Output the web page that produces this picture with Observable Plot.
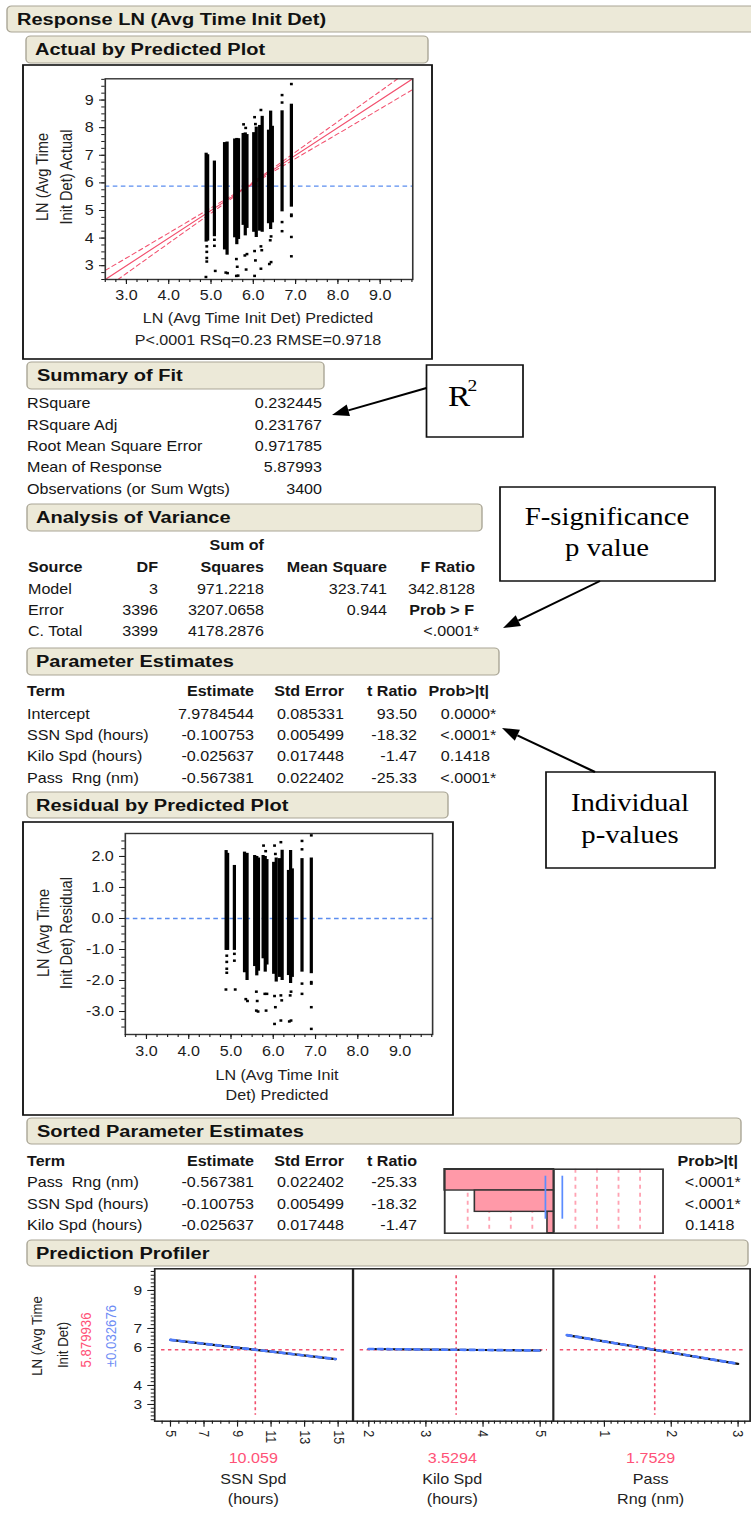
<!DOCTYPE html>
<html><head><meta charset="utf-8">
<script src="https://cdn.jsdelivr.net/npm/d3@7"></script>
<script src="https://cdn.jsdelivr.net/npm/@observablehq/plot@0.6"></script>
<style>
html,body{margin:0;padding:0;background:#fff;width:751px;height:1513px;overflow:hidden}
#page{position:absolute;left:0;top:0;width:654px;height:1513px;transform:scaleX(1.15);transform-origin:0 0}
</style></head>
<body><div id="page"></div>
<script>
// ================= DATA =================
const summaryLabels = ["RSquare","RSquare Adj","Root Mean Square Error","Mean of Response","Observations (or Sum Wgts)"];
const summaryValues = ["0.232445","0.231767","0.971785","5.87993","3400"];

const anovaSources = ["Model","Error","C. Total"];
const anovaDF = ["3","3396","3399"];
const anovaSS = ["971.2218","3207.0658","4178.2876"];
const anovaMS = ["323.741","0.944",""];
const anovaF = ["342.8128","Prob > F","<.0001*"];

const paramTerms = ["Intercept","SSN Spd (hours)","Kilo Spd (hours)","Pass  Rng (nm)"];
const paramEstimates = ["7.9784544","-0.100753","-0.025637","-0.567381"];
const paramStdErr = ["0.085331","0.005499","0.017448","0.022402"];
const paramTRatio = ["93.50","-18.32","-1.47","-25.33"];
const paramProb = ["0.0000*","<.0001*","0.1418","<.0001*"];

const sortedTerms = ["Pass  Rng (nm)","SSN Spd (hours)","Kilo Spd (hours)"];
const sortedEstimates = ["-0.567381","-0.100753","-0.025637"];
const sortedStdErr = ["0.022402","0.005499","0.017448"];
const sortedTRatio = [-25.33, -18.32, -1.47];
const sortedProb = ["<.0001*","<.0001*","0.1418"];
const tCritical = [-1.96, 1.96];
const tGrid = [-20, -15, -10, -5, 5, 10, 15, 20];

const meanResponse = 5.879936;
// predicted-value columns of observations (residual ranges)
const colPred    = [4.885, 4.92, 5.08, 5.32, 5.38, 5.56, 5.61, 5.65, 5.76, 5.81, 5.85, 6.01, 6.07, 6.15, 6.21, 6.36, 6.41, 6.45, 6.68, 6.90];
const colResidLo = [-1.03, -1.03, -1.03, -1.75, -2.00, -1.55, -1.85, -1.70, -1.30, -1.73, -1.50, -1.80, -2.05, -1.90, -2.00, -1.84, -2.10, -1.90, -1.73, -1.78];
const colResidHi = [2.19, 2.10, 1.71, 2.14, 2.10, 2.03, 2.00, 1.95, 2.03, 2.00, 1.90, 1.81, 1.95, 1.93, 2.20, 1.55, 2.19, 1.60, 1.93, 1.95];
// isolated observations
const outPred  = [4.90,4.90,4.90,4.90,4.88, 5.08,5.08,5.10, 5.35,5.39, 5.60,5.62,5.60,5.64, 5.77,5.82,5.80,5.85,5.83, 6.03,6.05,6.03,6.05,6.03, 6.18,6.18,6.20,6.18, 6.42,6.40,6.42,6.38, 6.68,6.68,6.68,6.68, 6.90,6.90,6.90,6.90,6.90];
const outResid = [-1.20,-1.40,-1.62,-1.75,-2.29, -1.14,-1.36,-2.29, -2.60,-2.66, -2.36,-2.66,-2.97,-3.00, 2.35,2.17,-2.43,-2.43,-2.97, 2.35,2.08,-2.50,-2.86,-3.40, 2.46,-2.48,-2.64,-3.29, -2.36,-2.48,-3.29,-3.32, 2.50,2.23,-2.10,-2.43, 2.68,-2.05,-2.10,-2.86,-3.56];
// fit line and confidence curves (actual by predicted)
const fitPred = [2.5, 9.77];
const ciPred  = [2.5, 3.5, 4.5, 5.5, 5.88, 6.5, 7.5, 8.5, 9.77];
const ciUpper = [2.83, 3.73, 4.64, 5.55, 5.91, 6.57, 7.67, 8.77, 10.16];
const ciLower = [2.17, 3.27, 4.36, 5.45, 5.85, 6.43, 7.33, 8.23, 9.38];

const actualTicksX = [3, 4, 5, 6, 7, 8, 9];
const actualTicksY = [3, 4, 5, 6, 7, 8, 9];
const residTicksY = [-3, -2, -1, 0, 1, 2];

// prediction profiler
const profYTicks = [3, 4, 6, 7, 9];
const ssnX = [5, 14.85],  ssnY = [6.40, 5.39];
const kiloX = [2, 5],     kiloY = [5.92, 5.84];
const passX = [0.44, 3.0], passY = [6.65, 5.14];
const ssnTicks = [5, 7, 9, 11, 13, 15];
const kiloTicks = [2, 3, 4, 5];
const passTicks = [1, 2, 3];
const currentValues = [10.059, 3.5294, 1.7529];
const currentLabels = ["10.059", "3.5294", "1.7529"];
const factorNames = [["SSN Spd", "(hours)"], ["Kilo Spd", "(hours)"], ["Pass", "Rng (nm)"]];
const profMean = "5.879936", profCI = "\u00b10.032676";

// ================= LAYOUT =================
const S = 1.15;
const FONT = '"Liberation Sans", Arial, sans-serif';
const SERIF = '"Liberation Serif", "Times New Roman", serif';
const RED = "#F2506E", BLUE = "#5B8DEF", INK = "#151515";
const NS = "http://www.w3.org/2000/svg";
const page = document.getElementById("page");
const lay = document.createElementNS(NS, "svg");
lay.setAttribute("width", 751 / S); lay.setAttribute("height", 1513);
lay.style.position = "absolute"; lay.style.left = "0"; lay.style.top = "0";
page.appendChild(lay);

function E(tag, attrs) {
  const e = document.createElementNS(NS, tag);
  for (const k in attrs) e.setAttribute(k, attrs[k]);
  lay.appendChild(e); return e;
}
function T(x, y, s, o = {}) {
  const lx = x / S;
  const t = E("text", {x: lx, y, "font-family": o.family || FONT, "font-size": o.size || 14,
    fill: o.color || INK, "text-anchor": o.anchor || "start"});
  if (o.weight) t.setAttribute("font-weight", o.weight);
  if (o.rotate) t.setAttribute("transform", `rotate(${o.rotate},${lx},${y})`);
  t.style.whiteSpace = "pre";
  t.textContent = s; return t;
}
function box(x1, y1, x2, y2, o = {}) {
  return E("rect", {x: x1 / S, y: y1, width: (x2 - x1) / S, height: y2 - y1,
    fill: o.fill || "none", stroke: o.stroke || "#111", "stroke-width": o.sw || 1.5, rx: o.rx || 0});
}
function hdr(x1, y1, x2, y2, label, tx) {
  box(x1, y1, x2, y2, {fill: "#ECE9D8", stroke: "#A9A595", sw: 1.2, rx: 4});
  T(tx, y1 + 19.5, label, {size: 17.4, weight: "bold", color: "#111"});
}
function prob(xr, y, s, o = {}) {
  if (s.endsWith("*")) { T(xr, y, s.slice(0, -1), {anchor: "end", ...o}); T(xr, y, "*", o); }
  else T(xr, y, s, {anchor: "end", ...o});
}
function arrow(ax, ay, tx, ty) {
  const dx = tx - ax, dy = ty - ay, len = Math.hypot(dx, dy), ux = dx / len, uy = dy / len;
  const L = 17, W = 6, bx = tx - ux * L, by = ty - uy * L;
  E("line", {x1: ax / S, y1: ay, x2: bx / S, y2: by, stroke: "#000", "stroke-width": 2});
  E("polygon", {points: [[tx, ty], [bx - uy * W, by + ux * W], [bx + uy * W, by - ux * W]].map(p => `${p[0] / S},${p[1]}`).join(" "), fill: "#000"});
}
function mkPlot(b, a, opts) {
  const p = Plot.plot(Object.assign({
    width: (b[2] - b[0]) / S, height: b[3] - b[1],
    marginLeft: (a[0] - b[0]) / S, marginRight: (b[2] - a[2]) / S,
    marginTop: a[1] - b[1], marginBottom: b[3] - a[3],
    style: {background: "transparent", overflow: "visible", maxWidth: "none", fontFamily: FONT, fontSize: "14px", color: "#1c1c1c"}
  }, opts));
  p.style.position = "absolute"; p.style.left = (b[0] / S) + "px"; p.style.top = b[1] + "px";
  page.appendChild(p); return p;
}
const rng = (a, b, s) => d3.range(Math.round(a / s), Math.round(b / s) + 1).map(i => +(i * s).toFixed(4));

const cols = colPred.map((p, i) => ({pred: p, lo: colResidLo[i], hi: colResidHi[i]}));
const outs = outPred.map((p, i) => ({pred: p, r: outResid[i]}));
const fit = fitPred.map(p => ({pred: p, act: p}));
const ciU = ciPred.map((p, i) => ({pred: p, v: ciUpper[i]}));
const ciL = ciPred.map((p, i) => ({pred: p, v: ciLower[i]}));

// ---------- Response header ----------
hdr(7, 6, 770, 32, "Response LN (Avg Time Init Det)", 17);

// ---------- Actual by Predicted ----------
hdr(26, 36, 428, 63, "Actual by Predicted Plot", 35);
box(23, 65, 432, 359, {sw: 1.6});
mkPlot([58, 70, 424, 305], [105.2, 78.3, 412.7, 279], {
  x: {domain: [2.5, 9.77], label: null}, y: {domain: [2.5, 9.77], label: null},
  marks: [
    Plot.ruleY([meanResponse], {stroke: BLUE, strokeWidth: 1.3, strokeDasharray: "4,3"}),
    Plot.line(ciU, {x: "pred", y: "v", stroke: RED, strokeWidth: 1, strokeDasharray: "4,3", curve: "natural", clip: true}),
    Plot.line(ciL, {x: "pred", y: "v", stroke: RED, strokeWidth: 1, strokeDasharray: "4,3", curve: "natural", clip: true}),
    Plot.line(fit, {x: "pred", y: "act", stroke: RED, strokeWidth: 1.1}),
    Plot.ruleX(cols, {x: "pred", y1: d => d.pred + d.lo, y2: d => d.pred + d.hi, stroke: "#000", strokeWidth: 2.8}),
    Plot.dot(outs, {x: "pred", y: d => d.pred + d.r, symbol: "square", r: 1.4, fill: "#000"}),
    Plot.frame({stroke: "#333", strokeWidth: 1.4}),
    Plot.axisX(actualTicksX, {tickSize: 5, tickPadding: 6, tickFormat: d => d.toFixed(1), label: null}),
    Plot.axisX(rng(2.5, 9.75, 0.25), {tickSize: 3, tickFormat: () => "", label: null}),
    Plot.axisY(actualTicksY, {tickSize: 5, tickPadding: 5, tickFormat: d => String(d), label: null}),
    Plot.axisY(rng(2.5, 9.75, 0.25), {tickSize: 3, tickFormat: () => "", label: null})
  ]
});
T(48, 177, "LN (Avg Time", {size: 14.6, rotate: -90, anchor: "middle", color: "#222"});
T(72, 177, "Init Det) Actual", {size: 14.6, rotate: -90, anchor: "middle", color: "#222"});
T(258, 323, "LN (Avg Time Init Det) Predicted", {anchor: "middle", color: "#222"});
T(258, 345.5, "P<.0001 RSq=0.23 RMSE=0.9718", {anchor: "middle", color: "#222"});

// ---------- Summary of Fit ----------
hdr(27, 362, 324, 389, "Summary of Fit", 37);
summaryLabels.forEach((l, i) => {
  const y = 408.5 + i * 21.3;
  T(27, y, l); T(322, y, summaryValues[i], {anchor: "end"});
});
box(426.5, 365, 523, 437, {fill: "#fff", sw: 1.5});
T(448, 406, "R", {family: SERIF, size: 29, color: "#000"});
T(467.5, 391, "2", {family: SERIF, size: 17, color: "#000"});
arrow(426.5, 388, 332, 415);

// ---------- Analysis of Variance ----------
hdr(27, 504, 482, 531, "Analysis of Variance", 36);
const aCols = [158, 264, 387, 475];
T(264, 550, "Sum of", {anchor: "end", weight: "bold"});
T(28, 572.5, "Source", {weight: "bold"});
["DF", "Squares", "Mean Square", "F Ratio"].forEach((h, j) => T(aCols[j], 572.5, h, {anchor: "end", weight: "bold"}));
anovaSources.forEach((s, i) => {
  const y = 594 + i * 21.2;
  T(28, y, s);
  T(aCols[0], y, anovaDF[i], {anchor: "end"});
  T(aCols[1], y, anovaSS[i], {anchor: "end"});
  T(aCols[2], y, anovaMS[i], {anchor: "end"});
  if (anovaF[i] === "Prob > F") T(474, y, anovaF[i], {anchor: "end", weight: "bold"});
  else prob(anovaF[i].endsWith("*") ? 473 : aCols[3], y, anovaF[i]);
});
box(500, 487, 715, 581, {fill: "#fff", sw: 1.5});
T(607, 525, "F-significance", {family: SERIF, size: 25, anchor: "middle", color: "#000"});
T(607, 556, "p value", {family: SERIF, size: 25, anchor: "middle", color: "#000"});
arrow(600, 581, 503, 628);

// ---------- Parameter Estimates ----------
hdr(27, 648, 499, 675, "Parameter Estimates", 36);
const pCols = [254, 344, 417];
T(27, 696.5, "Term", {weight: "bold"});
["Estimate", "Std Error", "t Ratio"].forEach((h, j) => T(pCols[j], 696.5, h, {anchor: "end", weight: "bold"}));
T(489, 696.5, "Prob>|t|", {anchor: "end", weight: "bold"});
paramTerms.forEach((t, i) => {
  const y = 719 + i * 21.2;
  T(27, y, t);
  T(pCols[0], y, paramEstimates[i], {anchor: "end"});
  T(pCols[1], y, paramStdErr[i], {anchor: "end"});
  T(pCols[2], y, paramTRatio[i], {anchor: "end"});
  prob(490, y, paramProb[i]);
});
box(546, 772, 715, 868, {fill: "#fff", sw: 1.5});
T(630, 811, "Individual", {family: SERIF, size: 25, anchor: "middle", color: "#000"});
T(630, 843, "p-values", {family: SERIF, size: 25, anchor: "middle", color: "#000"});
arrow(595, 772, 502, 728);

// ---------- Residual by Predicted ----------
hdr(27, 792, 448, 818, "Residual by Predicted Plot", 36);
box(23, 822, 453, 1115, {sw: 1.6});
mkPlot([75, 826, 445, 1064], [125, 833, 432.3, 1034], {
  x: {domain: [2.5, 9.77], label: null}, y: {domain: [-3.74, 2.74], label: null},
  marks: [
    Plot.ruleY([0], {stroke: BLUE, strokeWidth: 1.3, strokeDasharray: "4,3"}),
    Plot.ruleX(cols, {x: "pred", y1: "lo", y2: "hi", stroke: "#000", strokeWidth: 2.8}),
    Plot.dot(outs, {x: "pred", y: "r", symbol: "square", r: 1.4, fill: "#000"}),
    Plot.frame({stroke: "#333", strokeWidth: 1.4}),
    Plot.axisX(actualTicksX, {tickSize: 5, tickPadding: 7, tickFormat: d => d.toFixed(1), label: null}),
    Plot.axisX(rng(2.5, 9.75, 0.25), {tickSize: 3, tickFormat: () => "", label: null}),
    Plot.axisY(residTicksY, {tickSize: 5, tickPadding: 5, tickFormat: d => d.toFixed(1), label: null}),
    Plot.axisY(rng(-3.5, 2.5, 0.25), {tickSize: 3, tickFormat: () => "", label: null})
  ]
});
T(49, 933, "LN (Avg Time", {size: 14.6, rotate: -90, anchor: "middle", color: "#222"});
T(72.5, 933, "Init Det) Residual", {size: 14.6, rotate: -90, anchor: "middle", color: "#222"});
T(277, 1080, "LN (Avg Time Init", {anchor: "middle", color: "#222"});
T(277, 1100.5, "Det) Predicted", {anchor: "middle", color: "#222"});

// ---------- Sorted Parameter Estimates ----------
hdr(27, 1118, 741, 1144, "Sorted Parameter Estimates", 37);
T(27, 1166.5, "Term", {weight: "bold"});
["Estimate", "Std Error", "t Ratio"].forEach((h, j) => T(pCols[j], 1166.5, h, {anchor: "end", weight: "bold"}));
T(738, 1166.5, "Prob>|t|", {anchor: "end", weight: "bold"});
sortedTerms.forEach((t, i) => {
  const y = 1187.5 + i * 21.2;
  T(27, y, t);
  T(pCols[0], y, sortedEstimates[i], {anchor: "end"});
  T(pCols[1], y, sortedStdErr[i], {anchor: "end"});
  T(pCols[2], y, sortedTRatio[i].toFixed(2), {anchor: "end"});
  prob(734.5, y, sortedProb[i]);
});
const bars = sortedTRatio.map((t, i) => ({t, i}));
mkPlot([438, 1164, 668, 1237], [444, 1168.7, 662.3, 1232.7], {
  x: {domain: [-25.33, 25.33], label: null, axis: null}, y: {domain: [3, 0], label: null, axis: null},
  marks: [
    Plot.ruleX(tGrid, {stroke: "#FFA3B3", strokeWidth: 1.6, strokeDasharray: "4,4"}),
    Plot.rect(bars, {x1: 0, x2: "t", y1: "i", y2: d => d.i + 1, fill: "#FF99A8", stroke: "#333", strokeWidth: 1.4}),
    Plot.ruleX([0], {stroke: "#333", strokeWidth: 1.6}),
    Plot.ruleX(tCritical, {stroke: "#5B8CFF", strokeWidth: 1.5, insetTop: 7, insetBottom: 14}),
    Plot.frame({stroke: "#333", strokeWidth: 1.6})
  ]
});

// ---------- Prediction Profiler ----------
hdr(27, 1240, 748, 1266, "Prediction Profiler", 36);
const panels = [
  {b: [114, 1262, 357, 1456], a: [154.3, 1268.3, 352.3, 1420.7], dom: [4.06, 15.87], ticks: ssnTicks, minor: rng(4.5, 15.5, 0.5), xs: ssnX, ys: ssnY, yAxis: true},
  {b: [348, 1262, 557, 1456], a: [352.3, 1268.3, 552.3, 1420.7], dom: [1.73, 5.23], ticks: kiloTicks, minor: rng(1.8, 5.2, 0.1), xs: kiloX, ys: kiloY},
  {b: [548, 1262, 753, 1456], a: [552.3, 1268.3, 749, 1420.7], dom: [0.237, 3.18], ticks: passTicks, minor: rng(0.3, 3.1, 0.1), xs: passX, ys: passY}
];
panels.forEach((pn, k) => {
  const prof = pn.xs.map((x, i) => ({x, y: pn.ys[i]}));
  const marks = [
    Plot.ruleY([meanResponse], {stroke: RED, strokeWidth: 1.4, strokeDasharray: "3,3", insetLeft: 6, insetRight: 5}),
    Plot.ruleX([currentValues[k]], {stroke: RED, strokeWidth: 1.4, strokeDasharray: "3,3", insetTop: 7, insetBottom: 6}),
    Plot.line(prof, {x: "x", y: "y", stroke: "#111", strokeWidth: 2.2}),
    Plot.line(prof, {x: "x", y: "y", stroke: "#4D7CFF", strokeWidth: 2.6, strokeDasharray: "4,4"}),
    Plot.frame({stroke: "#222", strokeWidth: 1.5}),
    Plot.axisX(pn.ticks, {tickSize: 6, tickPadding: 3, tickRotate: 90, fontSize: 12.5, tickFormat: d => String(d), label: null}),
    Plot.axisX(pn.minor, {tickSize: 3, tickFormat: () => "", label: null})
  ];
  if (pn.yAxis) {
    marks.push(Plot.axisY(profYTicks, {tickSize: 6, tickPadding: 5, fontSize: 13.5, tickFormat: d => String(d), label: null}));
    marks.push(Plot.axisY(rng(2.2, 10.0, 0.2), {tickSize: 3, tickFormat: () => "", label: null}));
  }
  mkPlot(pn.b, pn.a, {
    x: {domain: pn.dom, label: null},
    y: pn.yAxis ? {domain: [2.12, 10.14], label: null} : {domain: [2.12, 10.14], label: null, axis: null},
    marks
  });
  const cx = (pn.a[0] + pn.a[2]) / 2;
  T(cx, 1463, currentLabels[k], {anchor: "middle", color: "#FF5277"});
  T(cx, 1484.5, factorNames[k][0], {anchor: "middle", color: "#222"});
  T(cx, 1504.5, factorNames[k][1], {anchor: "middle", color: "#222"});
});
T(42, 1336, "LN (Avg Time", {size: 13.2, rotate: -90, anchor: "middle", color: "#222"});
T(68, 1345, "Init Det)", {size: 13.2, rotate: -90, anchor: "middle", color: "#222"});
T(91, 1340, profMean, {size: 13.2, rotate: -90, anchor: "middle", color: "#FF5277"});
T(116, 1336, profCI, {size: 13.2, rotate: -90, anchor: "middle", color: "#6E8CF5"});
</script>
</body></html>
